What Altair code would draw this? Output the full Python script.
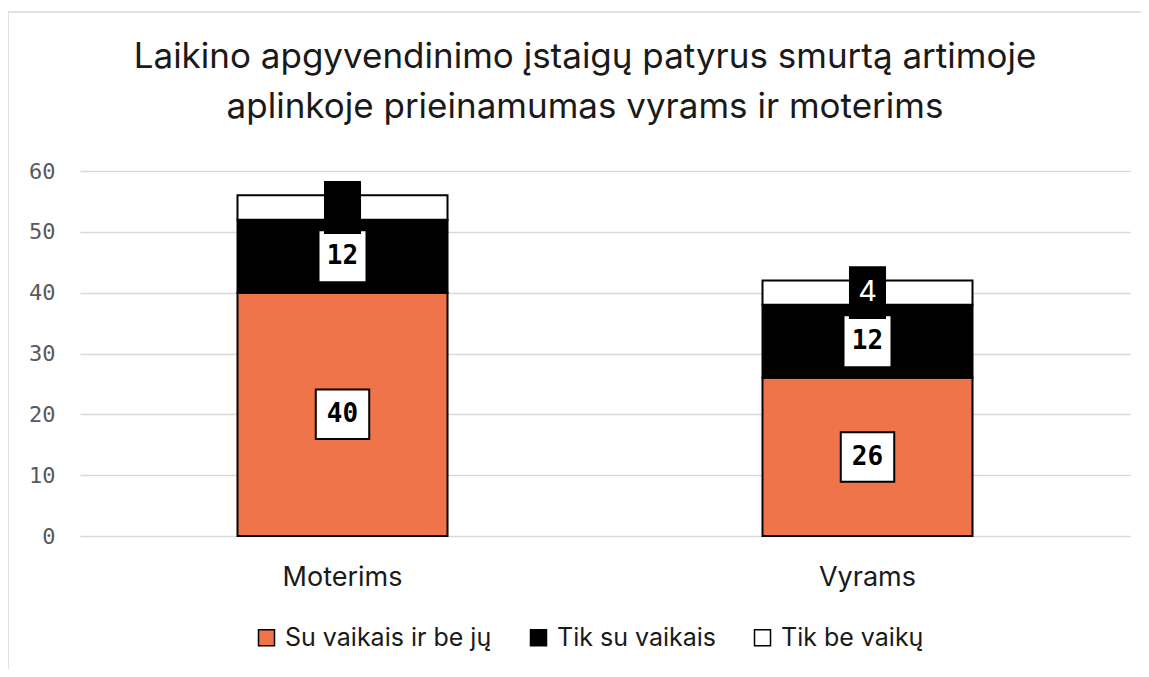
import altair as alt
import pandas as pd

categories = ["Moterims", "Vyrams"]
series = ["Su vaikais ir be jų", "Tik su vaikais", "Tik be vaikų"]
su_vaikais_ir_be = [40, 26]
tik_su_vaikais = [12, 12]
tik_be_vaiku = [4, 4]
title_lines = ["Laikino apgyvendinimo įstaigų patyrus smurtą artimoje",
               "aplinkoje prieinamumas vyrams ir moterims"]

rows = []
for i, c in enumerate(categories):
    for j, (s, vals) in enumerate(zip(series, [su_vaikais_ir_be, tik_su_vaikais, tik_be_vaiku])):
        rows.append({"category": c, "series": s, "order": j, "value": vals[i]})
df = pd.DataFrame(rows)

W, H = 1050, 365
PAD_L, PAD_T = 72, 163

base = alt.Chart(df).transform_stack(
    stack="value", groupby=["category"], as_=["v0", "v1"],
    sort=[alt.SortField("order", order="ascending")]
).transform_calculate(mid="(datum.v0 + datum.v1) / 2")

xenc = alt.X("category:N", sort=categories, title=None,
             scale=alt.Scale(paddingInner=0.6, paddingOuter=0.3),
             axis=alt.Axis(labelAngle=0, labelFontSize=27, labelFont="Inter",
                           labelColor="#1a1a1a", labelPadding=28, ticks=False, domain=False))
yscale = alt.Scale(domain=[0, 60])

bars = base.mark_bar(stroke="black", strokeWidth=2).encode(
    x=xenc,
    y=alt.Y("v0:Q", scale=yscale, title=None,
            axis=alt.Axis(values=[0, 10, 20, 30, 40, 50, 60], grid=True, gridColor="#d9d9d9",
                          gridWidth=1.5, ticks=False, domain=False, labelFontSize=22,
                          labelFont="DejaVu Sans Mono", labelColor="#595959", labelPadding=25)),
    y2="v1:Q",
    color=alt.Color("series:N", sort=series,
                    scale=alt.Scale(domain=series, range=["#F07449", "#000000", "#ffffff"]),
                    legend=alt.Legend(title=None, orient="none", direction="horizontal",
                                      legendX=174, legendY=454, symbolType="square",
                                      symbolSize=256, symbolStrokeColor="black",
                                      symbolStrokeWidth=1.5, labelFontSize=25, labelFont="Inter",
                                      labelColor="#1a1a1a", labelOffset=6, columnPadding=34,
                                      labelLimit=0)),
    order=alt.Order("order:Q"),
)

ymid = alt.Y("mid:Q", scale=yscale)

box_a = base.transform_filter(alt.datum.order == 0).mark_point(
    shape="M-1.08,-1L1.08,-1L1.08,1L-1.08,1Z", size=2450, filled=True, fill="white",
    stroke="black", strokeWidth=2, opacity=1
).encode(x=xenc, y=ymid)
box_b = base.transform_filter(alt.datum.order == 1).mark_point(
    shape="M-0.92,-1L0.92,-1L0.92,1L-0.92,1Z", size=2500, filled=True, fill="white",
    strokeWidth=0, opacity=1
).encode(x=xenc, y=ymid)
box_c = base.transform_filter(alt.datum.order == 2).mark_point(
    shape="M-0.7,-1L0.7,-1L0.7,1L-0.7,1Z", size=2800, filled=True, fill="black",
    strokeWidth=0, opacity=1
).encode(x=xenc, y=ymid)

txt_ab = base.transform_filter(alt.datum.order <= 1).mark_text(
    font="DejaVu Sans Mono", fontWeight="bold", fontSize=26, color="black", baseline="middle"
).encode(x=xenc, y=ymid, text="value:Q")
txt_c = base.transform_filter(alt.datum.order == 2).mark_text(
    font="Inter", fontSize=29, baseline="middle", dy=-1
).encode(
    x=xenc, y=ymid, text="value:Q",
    color=alt.condition(alt.datum.category == "Moterims", alt.value("black"), alt.value("white")),
)

title = alt.Chart(pd.DataFrame({"t": ["\n".join(title_lines)]})).mark_text(
    font="Inter", fontSize=35, color="#1a1a1a", align="center", baseline="alphabetic",
    lineBreak="\n", lineHeight=50
).encode(text="t:N", x=alt.value(505), y=alt.value(-103))

one = pd.DataFrame({"a": [0]})
frame_top = alt.Chart(one).mark_rule(stroke="#d9d9d9", strokeWidth=1.5).encode(
    x=alt.value(-PAD_L), x2=alt.value(W + 200), y=alt.value(-159))
frame_left = alt.Chart(one).mark_rule(stroke="#d9d9d9", strokeWidth=1.5).encode(
    x=alt.value(-PAD_L), y=alt.value(-159), y2=alt.value(H + 300))

chart = alt.layer(frame_top, frame_left, title, bars, box_a, box_b, box_c, txt_ab, txt_c).properties(
    width=W, height=H,
    autosize=alt.AutoSizeParams(type="none"),
    padding={"left": PAD_L, "top": PAD_T, "right": 11, "bottom": 133},
).configure_view(stroke=None)

chart.save("out.html", embed_options={"renderer": "svg", "actions": False})
